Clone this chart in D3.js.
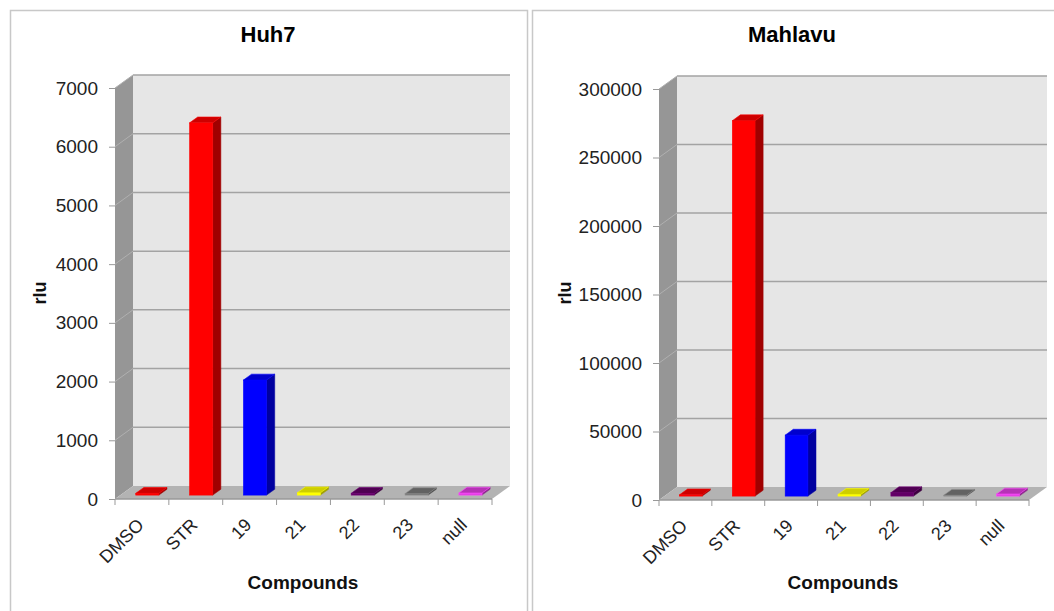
<!DOCTYPE html>
<html>
<head>
<meta charset="utf-8">
<script src="https://cdn.jsdelivr.net/npm/d3@7"></script>
<style>
  body { margin: 0; background: #fff; }
  svg { font-family: "Liberation Sans", Arial, sans-serif; }
</style>
</head>
<body>
<svg id="chart" width="1054" height="611"></svg>
<script>
// categories and values
const compounds = ["DMSO", "STR", "19", "21", "22", "23", "null"];
const huh7Values = [30, 6340, 1960, 40, 30, 25, 35];
const mahlavuValues = [900, 274000, 44500, 1200, 2500, 600, 1500];
const huh7Ticks = [0, 1000, 2000, 3000, 4000, 5000, 6000, 7000];
const mahlavuTicks = [0, 50000, 100000, 150000, 200000, 250000, 300000];
const barColors = ["#ff0000", "#ff0000", "#0000ff", "#ffff00", "#620066", "#7a7a7a", "#e23ee2"];

const svg = d3.select("#chart");

// panel frames
svg.append("rect").attr("x", 10.5).attr("y", 10.5).attr("width", 517).attr("height", 640)
    .attr("fill", "none").attr("stroke", "#c8c8c8").attr("stroke-width", 1.5);
svg.append("rect").attr("x", 532.5).attr("y", 10.5).attr("width", 540).attr("height", 640)
    .attr("fill", "none").attr("stroke", "#c8c8c8").attr("stroke-width", 1.5);

drawPanel({
    title: "Huh7", titleX: 268, values: huh7Values, ticks: huh7Ticks,
    x0: 115, x1: 492, yTop: 88, yBottom: 499, rluX: 40, xTitleX: 303
});
drawPanel({
    title: "Mahlavu", titleX: 792, values: mahlavuValues, ticks: mahlavuTicks,
    x0: 659, x1: 1029, yTop: 89, yBottom: 500, rluX: 565, xTitleX: 843
});

function drawPanel(cfg) {
    const dx = 18, dy = 13;          // depth of the 3D box
    const z0 = 0.3, z1 = 0.75;       // bar front/back depth
    const g = svg.append("g");

    const x = d3.scaleBand().domain(compounds).range([cfg.x0, cfg.x1]).padding(0);
    const y = d3.scaleLinear().domain([0, d3.max(cfg.ticks)]).range([cfg.yBottom, cfg.yTop]);
    const maxV = d3.max(cfg.ticks);

    // title
    g.append("text").attr("x", cfg.titleX).attr("y", 42).attr("text-anchor", "middle")
        .style("font-size", "22px").style("font-weight", "bold").text(cfg.title);

    // side wall
    g.append("polygon")
        .attr("points", [[cfg.x0, y(maxV)], [cfg.x0 + dx, y(maxV) - dy], [cfg.x0 + dx, y(0) - dy], [cfg.x0, y(0)]].join(" "))
        .attr("fill", "#969696");
    // back wall
    g.append("rect").attr("x", cfg.x0 + dx).attr("y", y(maxV) - dy)
        .attr("width", cfg.x1 - cfg.x0).attr("height", y(0) - y(maxV))
        .attr("fill", "#e6e6e6");

    // gridlines (back wall + side wall)
    cfg.ticks.filter(t => t > 0).forEach(t => {
        g.append("line").attr("x1", cfg.x0 + dx).attr("x2", cfg.x1 + dx)
            .attr("y1", y(t) - dy).attr("y2", y(t) - dy)
            .attr("stroke", "#a3a3a3").attr("stroke-width", 1.5);
        g.append("line").attr("x1", cfg.x0).attr("x2", cfg.x0 + dx)
            .attr("y1", y(t)).attr("y2", y(t) - dy)
            .attr("stroke", "#b0b0b0").attr("stroke-width", 1);
    });

    // floor
    g.append("polygon")
        .attr("points", [[cfg.x0, y(0)], [cfg.x0 + dx, y(0) - dy], [cfg.x1 + dx, y(0) - dy], [cfg.x1, y(0)]].join(" "))
        .attr("fill", "#b3b3b3");

    // y axis
    const yAxis = g.append("g").attr("transform", `translate(${cfg.x0},0)`)
        .call(d3.axisLeft(y).tickValues(cfg.ticks).tickSize(6).tickPadding(11).tickFormat(d3.format("d")));
    yAxis.select(".domain").remove();
    yAxis.selectAll(".tick line").attr("stroke", "#999");
    yAxis.selectAll(".tick text").style("font-size", "19px").attr("fill", "#222")
        .attr("font-family", "Liberation Sans, Arial, sans-serif");

    // x axis: front floor edge with boundary ticks
    g.append("line").attr("x1", cfg.x0).attr("x2", cfg.x1).attr("y1", y(0)).attr("y2", y(0))
        .attr("stroke", "#999").attr("stroke-width", 1.5);
    const bounds = compounds.map(c => x(c)).concat([cfg.x1]);
    bounds.forEach(bx => {
        g.append("line").attr("x1", bx).attr("x2", bx).attr("y1", y(0)).attr("y2", y(0) + 6)
            .attr("stroke", "#999");
    });
    const xAxis = g.append("g").attr("transform", `translate(0,${y(0)})`)
        .call(d3.axisBottom(x).tickSize(0));
    xAxis.select(".domain").remove();
    xAxis.selectAll(".tick text")
        .attr("x", 0).attr("y", 0).attr("dy", 0)
        .attr("transform", "translate(3,27) rotate(-45)")
        .attr("text-anchor", "end")
        .attr("fill", "#222")
        .attr("font-family", "Liberation Sans, Arial, sans-serif")
        .style("font-size", "18px");

    // bars
    const barW = x.bandwidth() * 0.43;
    compounds.forEach((c, i) => {
        const v = cfg.values[i];
        const col = d3.color(barColors[i]);
        const side = col.darker(1.3).formatHex();
        const top = col.darker(0.6).formatHex();
        const edge = col.brighter(0.4).formatHex();
        const fx = x(c) + (x.bandwidth() - barW) / 2 + z0 * dx;
        const bx = x(c) + (x.bandwidth() - barW) / 2 + z1 * dx;
        const fyTop = y(v) - z0 * dy, fyBot = y(0) - z0 * dy;
        const byTop = y(v) - z1 * dy, byBot = y(0) - z1 * dy;

        // side face
        g.append("polygon")
            .attr("points", [[fx + barW, fyTop], [bx + barW, byTop], [bx + barW, byBot], [fx + barW, fyBot]].join(" "))
            .attr("fill", side).attr("stroke", side).attr("stroke-width", 0.5);
        // front face
        g.append("rect").attr("x", fx).attr("y", fyTop).attr("width", barW).attr("height", Math.max(0, fyBot - fyTop))
            .attr("fill", barColors[i]).attr("stroke", edge).attr("stroke-width", 0.6);
        // top face
        g.append("polygon")
            .attr("points", [[fx, fyTop], [bx, byTop], [bx + barW, byTop], [fx + barW, fyTop]].join(" "))
            .attr("fill", top).attr("stroke", edge).attr("stroke-width", 0.6);
    });

    // axis titles
    g.append("text").attr("transform", `translate(${cfg.rluX + 6},293) rotate(-90)`)
        .attr("text-anchor", "middle").style("font-size", "18px").style("font-weight", "bold")
        .attr("fill", "#111").text("rlu");
    g.append("text").attr("x", cfg.xTitleX).attr("y", 589).attr("text-anchor", "middle")
        .style("font-size", "19px").style("font-weight", "bold").attr("fill", "#111").text("Compounds");
}
</script>
</body>
</html>
